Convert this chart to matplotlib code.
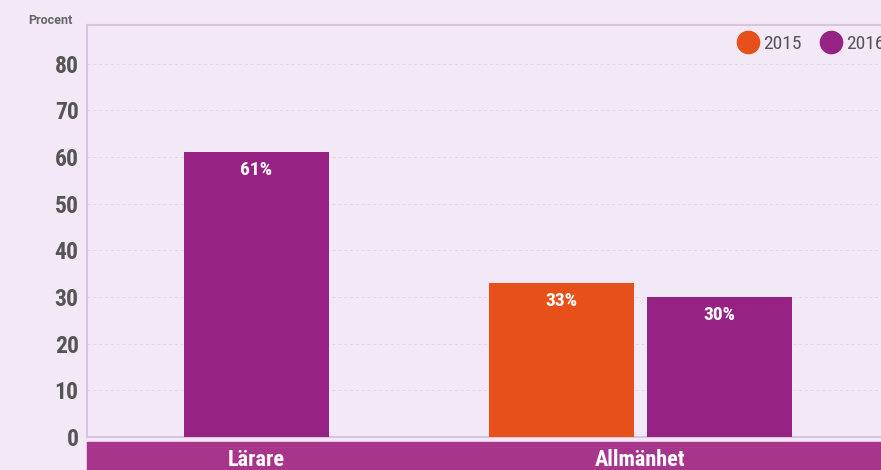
import matplotlib.pyplot as plt
from matplotlib.lines import Line2D
from matplotlib.patches import Rectangle

# data
categories = ["Lärare", "Allmänhet"]
series = ["2015", "2016"]
values_2015 = [None, 33]
values_2016 = [61, 30]
yticks = [0, 10, 20, 30, 40, 50, 60, 70, 80]

bg = "#F3E8F5"
c2015 = "#E8501A"
c2016 = "#962283"
band_col = "#A8358C"
tick_col = "#555555"
narrow = ["Roboto Condensed", "DejaVu Sans"]

W, H = 881, 470
fig = plt.figure(figsize=(W / 100, H / 100), dpi=100, facecolor=bg)

# axes placed in pixel terms (the right edge runs off the picture)
x0, x1, ytop, ybot = 87, 881, 25, 437
ax = fig.add_axes([x0 / W, 1 - ybot / H, (x1 - x0) / W, (ybot - ytop) / H])
ax.set_facecolor(bg)
ax.set_xlim(-0.441, 1.626)
ax.set_ylim(0, 88.3)

width = 0.378
offset = 0.206
for i, cat in enumerate(categories):
    present = [(s, v) for s, v in zip(series, [values_2015[i], values_2016[i]]) if v is not None]
    n = len(present)
    for j, (s, v) in enumerate(present):
        xpos = i + (j - (n - 1) / 2) * 2 * offset
        col = c2015 if s == "2015" else c2016
        ax.bar(xpos, v, width=width, color=col, zorder=3)
        ax.text(xpos, v - 1.9, f"{v}%", ha="center", va="top", color="white",
                fontsize=14, fontweight="bold", family=narrow, zorder=4)

ax.set_yticks(yticks)
ax.set_yticklabels([str(t) for t in yticks], fontsize=17, fontweight="bold",
                   color=tick_col, family=narrow)
ax.tick_params(axis="y", length=0, pad=6)
ax.set_xticks([])
ax.grid(axis="y", linestyle=(0, (3, 3)), color="#E2D6E5", linewidth=0.7, zorder=0)
for side in ["left", "bottom", "top"]:
    ax.spines[side].set_color("#D9C3DE")
    ax.spines[side].set_linewidth(1.5)
ax.spines["right"].set_visible(False)

fig.text(50 / W, 1 - 21 / H, "Procent", ha="center", va="center", fontsize=9,
         fontweight="bold", color="#666666", family=["Roboto", "DejaVu Sans"])

# category band under the plot
band = Rectangle((x0 / W, 0), (W - x0) / W, (H - 442) / H, transform=fig.transFigure,
                 color=band_col, zorder=1)
fig.patches.append(band)
for i, cat in enumerate(categories):
    xf = ax.transData.transform((i, 0))[0] / W
    fig.text(xf, 1 - 460 / H, cat, ha="center", va="center", color="white",
             fontsize=16, fontweight="bold", family=narrow)

handles = [Line2D([], [], marker="o", linestyle="", markersize=16, color=c2015),
           Line2D([], [], marker="o", linestyle="", markersize=16, color=c2016)]
leg = fig.legend(handles, series, loc="center left", bbox_to_anchor=(741 / W, 1 - 44 / H),
                 ncol=2, frameon=False, handlelength=0.7, handletextpad=0.45,
                 columnspacing=1.15, borderpad=0, borderaxespad=0,
                 prop={"family": narrow, "size": 14})
for t in leg.get_texts():
    t.set_color(tick_col)

fig.savefig("out.png", dpi=100, facecolor=bg)
